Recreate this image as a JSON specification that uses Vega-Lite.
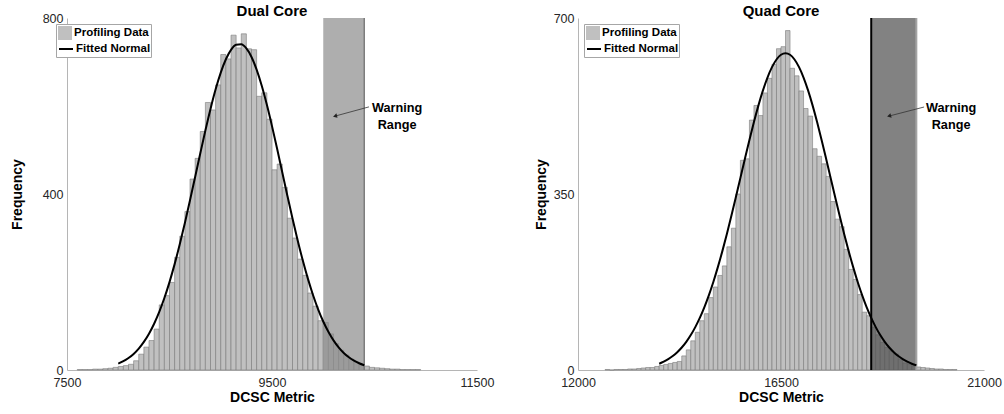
{
  "$schema": "https://vega.github.io/schema/vega-lite/v6.json",
  "padding": {"left": 10, "top": 4, "right": 0, "bottom": 0},
  "background": "white",
  "config": {
    "font": "Liberation Sans",
    "view": {"stroke": null},
    "axis": {"grid": false, "ticks": false, "domainColor": "#b5b5b5", "labelColor": "#262626", "labelFontSize": 12.5, "titleFontSize": 14, "titleFontWeight": "bold", "titleColor": "#000000", "labelPadding": 4, "labelFlush": false, "format": "d"},
    "title": {"fontSize": 15, "fontWeight": "bold", "offset": -7, "color": "#000000", "frame": "group"},
    "legend": {"orient": "none", "title": null, "padding": 2, "labelFontSize": 11.5, "labelFontWeight": "bold", "labelColor": "#000000", "symbolSize": 196, "rowPadding": 1, "labelOffset": 2}
  },
  "datasets": {
    "dualHist": [
      {"a":7600,"b":7650,"n":1},{"a":7650,"b":7700,"n":1},{"a":7700,"b":7750,"n":1},{"a":7750,"b":7800,"n":2},{"a":7800,"b":7850,"n":2},{"a":7850,"b":7900,"n":3},{"a":7900,"b":7950,"n":4},{"a":7950,"b":8000,"n":6},{"a":8000,"b":8050,"n":8},{"a":8050,"b":8100,"n":10},{"a":8100,"b":8150,"n":13},{"a":8150,"b":8200,"n":21},{"a":8200,"b":8250,"n":36},{"a":8250,"b":8300,"n":52},{"a":8300,"b":8350,"n":67},{"a":8350,"b":8400,"n":93},{"a":8400,"b":8450,"n":148},{"a":8450,"b":8500,"n":169},{"a":8500,"b":8550,"n":199},{"a":8550,"b":8600,"n":256},{"a":8600,"b":8650,"n":304},{"a":8650,"b":8700,"n":360},{"a":8700,"b":8750,"n":434},{"a":8750,"b":8800,"n":481},{"a":8800,"b":8850,"n":542},{"a":8850,"b":8900,"n":608},{"a":8900,"b":8950,"n":591},{"a":8950,"b":9000,"n":648},{"a":9000,"b":9050,"n":717},{"a":9050,"b":9100,"n":707},{"a":9100,"b":9150,"n":761},{"a":9150,"b":9200,"n":732},{"a":9200,"b":9250,"n":764},{"a":9250,"b":9300,"n":730},{"a":9300,"b":9350,"n":728},{"a":9350,"b":9400,"n":622},{"a":9400,"b":9450,"n":630},{"a":9450,"b":9500,"n":570},{"a":9500,"b":9550,"n":455},{"a":9550,"b":9600,"n":468},{"a":9600,"b":9650,"n":415},{"a":9650,"b":9700,"n":345},{"a":9700,"b":9750,"n":300},{"a":9750,"b":9800,"n":252},{"a":9800,"b":9850,"n":215},{"a":9850,"b":9900,"n":175},{"a":9900,"b":9950,"n":145},{"a":9950,"b":10000,"n":112},{"a":10000,"b":10050,"n":108},{"a":10050,"b":10100,"n":82},{"a":10100,"b":10150,"n":60},{"a":10150,"b":10200,"n":45},{"a":10200,"b":10250,"n":34},{"a":10250,"b":10300,"n":25},{"a":10300,"b":10350,"n":18},{"a":10350,"b":10400,"n":12},{"a":10400,"b":10450,"n":9},{"a":10450,"b":10500,"n":6},{"a":10500,"b":10550,"n":5},{"a":10550,"b":10600,"n":4},{"a":10600,"b":10650,"n":3},{"a":10650,"b":10700,"n":2},{"a":10700,"b":10750,"n":2},{"a":10750,"b":10800,"n":1},{"a":10800,"b":10850,"n":1},{"a":10850,"b":10900,"n":1},{"a":10900,"b":10950,"n":1}
    ],
    "dualFit": [
      {"x":8000,"y":14.3},{"x":8050,"y":19.9},{"x":8100,"y":27.2},{"x":8150,"y":36.6},{"x":8200,"y":48.7},{"x":8250,"y":63.8},{"x":8300,"y":82.5},{"x":8350,"y":105.2},{"x":8400,"y":132.1},{"x":8450,"y":163.6},{"x":8500,"y":199.8},{"x":8550,"y":240.6},{"x":8600,"y":285.6},{"x":8650,"y":334.2},{"x":8700,"y":385.6},{"x":8750,"y":438.8},{"x":8800,"y":492.1},{"x":8850,"y":544.2},{"x":8900,"y":593.3},{"x":8950,"y":637.9},{"x":9000,"y":676.0},{"x":9050,"y":706.3},{"x":9100,"y":727.7},{"x":9150,"y":739.1},{"x":9200,"y":740.2},{"x":9250,"y":730.8},{"x":9300,"y":711.4},{"x":9350,"y":682.7},{"x":9400,"y":646.0},{"x":9450,"y":602.7},{"x":9500,"y":554.3},{"x":9550,"y":502.7},{"x":9600,"y":449.4},{"x":9650,"y":396.2},{"x":9700,"y":344.3},{"x":9750,"y":295.1},{"x":9800,"y":249.3},{"x":9850,"y":207.6},{"x":9900,"y":170.5},{"x":9950,"y":138.0},{"x":10000,"y":110.2},{"x":10050,"y":86.7},{"x":10100,"y":67.3},{"x":10150,"y":51.5},{"x":10200,"y":38.8},{"x":10250,"y":28.9},{"x":10300,"y":21.2},{"x":10350,"y":15.3},{"x":10400,"y":10.9}
    ],
    "quadHist": [
      {"a":12600,"b":12700,"n":1},{"a":12700,"b":12800,"n":0},{"a":12800,"b":12900,"n":1},{"a":12900,"b":13000,"n":1},{"a":13000,"b":13100,"n":1},{"a":13100,"b":13200,"n":2},{"a":13200,"b":13300,"n":2},{"a":13300,"b":13400,"n":3},{"a":13400,"b":13500,"n":4},{"a":13500,"b":13600,"n":5},{"a":13600,"b":13700,"n":5},{"a":13700,"b":13800,"n":7},{"a":13800,"b":13900,"n":9},{"a":13900,"b":14000,"n":11},{"a":14000,"b":14100,"n":13},{"a":14100,"b":14200,"n":15},{"a":14200,"b":14300,"n":17},{"a":14300,"b":14400,"n":28},{"a":14400,"b":14500,"n":40},{"a":14500,"b":14600,"n":58},{"a":14600,"b":14700,"n":75},{"a":14700,"b":14800,"n":98},{"a":14800,"b":14900,"n":112},{"a":14900,"b":15000,"n":144},{"a":15000,"b":15100,"n":165},{"a":15100,"b":15200,"n":188},{"a":15200,"b":15300,"n":207},{"a":15300,"b":15400,"n":245},{"a":15400,"b":15500,"n":282},{"a":15500,"b":15600,"n":350},{"a":15600,"b":15700,"n":417},{"a":15700,"b":15800,"n":420},{"a":15800,"b":15900,"n":497},{"a":15900,"b":16000,"n":526},{"a":16000,"b":16100,"n":506},{"a":16100,"b":16200,"n":551},{"a":16200,"b":16300,"n":580},{"a":16300,"b":16400,"n":608},{"a":16400,"b":16500,"n":639},{"a":16500,"b":16600,"n":643},{"a":16600,"b":16700,"n":675},{"a":16700,"b":16800,"n":600},{"a":16800,"b":16900,"n":585},{"a":16900,"b":17000,"n":555},{"a":17000,"b":17100,"n":520},{"a":17100,"b":17200,"n":505},{"a":17200,"b":17300,"n":440},{"a":17300,"b":17400,"n":425},{"a":17400,"b":17500,"n":410},{"a":17500,"b":17600,"n":385},{"a":17600,"b":17700,"n":335},{"a":17700,"b":17800,"n":300},{"a":17800,"b":17900,"n":285},{"a":17900,"b":18000,"n":240},{"a":18000,"b":18100,"n":200},{"a":18100,"b":18200,"n":180},{"a":18200,"b":18300,"n":150},{"a":18300,"b":18400,"n":115},{"a":18400,"b":18500,"n":108},{"a":18500,"b":18600,"n":85},{"a":18600,"b":18700,"n":70},{"a":18700,"b":18800,"n":55},{"a":18800,"b":18900,"n":45},{"a":18900,"b":19000,"n":38},{"a":19000,"b":19100,"n":32},{"a":19100,"b":19200,"n":22},{"a":19200,"b":19300,"n":14},{"a":19300,"b":19400,"n":12},{"a":19400,"b":19500,"n":8},{"a":19500,"b":19600,"n":6},{"a":19600,"b":19700,"n":5},{"a":19700,"b":19800,"n":4},{"a":19800,"b":19900,"n":3},{"a":19900,"b":20000,"n":2},{"a":20000,"b":20100,"n":2},{"a":20100,"b":20200,"n":1},{"a":20200,"b":20300,"n":1},{"a":20300,"b":20400,"n":1}
    ],
    "quadFit": [
      {"x":13800,"y":12.5},{"x":13900,"y":16.5},{"x":14000,"y":21.5},{"x":14100,"y":27.7},{"x":14200,"y":35.4},{"x":14300,"y":44.7},{"x":14400,"y":56.0},{"x":14500,"y":69.5},{"x":14600,"y":85.3},{"x":14700,"y":103.6},{"x":14800,"y":124.7},{"x":14900,"y":148.5},{"x":15000,"y":175.1},{"x":15100,"y":204.6},{"x":15200,"y":236.4},{"x":15300,"y":270.6},{"x":15400,"y":306.7},{"x":15500,"y":344.1},{"x":15600,"y":382.1},{"x":15700,"y":420.2},{"x":15800,"y":457.5},{"x":15900,"y":493.1},{"x":16000,"y":526.2},{"x":16100,"y":556.0},{"x":16200,"y":581.6},{"x":16300,"y":602.3},{"x":16400,"y":617.5},{"x":16500,"y":626.9},{"x":16600,"y":630.0},{"x":16700,"y":626.9},{"x":16800,"y":617.5},{"x":16900,"y":602.3},{"x":17000,"y":581.6},{"x":17100,"y":556.0},{"x":17200,"y":526.2},{"x":17300,"y":493.1},{"x":17400,"y":457.5},{"x":17500,"y":420.2},{"x":17600,"y":382.1},{"x":17700,"y":344.1},{"x":17800,"y":306.7},{"x":17900,"y":270.6},{"x":18000,"y":236.4},{"x":18100,"y":204.6},{"x":18200,"y":175.1},{"x":18300,"y":148.5},{"x":18400,"y":124.7},{"x":18500,"y":103.6},{"x":18600,"y":85.3},{"x":18700,"y":69.5},{"x":18800,"y":56.0},{"x":18900,"y":44.7},{"x":19000,"y":35.4},{"x":19100,"y":27.7},{"x":19200,"y":21.5},{"x":19300,"y":16.5},{"x":19400,"y":12.5},{"x":19500,"y":9.4}
    ]
  },
  "hconcat": [
    {
      "title": "Dual Core",
      "width": 410,
      "height": 352,
      "layer": [
        {
          "data": {"name": "dualHist"},
          "mark": {"type": "rect", "stroke": "#7a7a7a", "strokeWidth": 0.6},
          "encoding": {
            "x": {"field": "a", "type": "quantitative", "scale": {"domain": [7500, 11500], "nice": false, "zero": false}, "axis": {"values": [7500, 9500, 11500], "title": "DCSC Metric", "titlePadding": 2, "labelPadding": 6}},
            "x2": {"field": "b"},
            "y": {"field": "n", "type": "quantitative", "scale": {"domain": [0, 800], "nice": false}, "axis": {"values": [0, 400, 800], "title": "Frequency", "titlePadding": 18}},
            "y2": {"datum": 0},
            "fill": {"datum": "Profiling Data", "type": "nominal",
              "scale": {"domain": ["Profiling Data", "Fitted Normal"], "range": ["#c0c0c0", "rgba(0,0,0,0)"]},
              "legend": {"legendX": -11, "legendY": 6, "strokeColor": "#a6a6a6", "fillColor": "white", "symbolType": "square", "symbolStrokeWidth": 0, "labelExpr": "datum.label === 'Fitted Normal' ? '' : datum.label"}}
          }
        },
        {
          "data": {"values": [{"a": 10000, "b": 10400, "lo": 0, "hi": 800}]},
          "mark": {"type": "rect", "fill": "#8c8c8c", "opacity": 0.7},
          "encoding": {
            "x": {"field": "a", "type": "quantitative"},
            "x2": {"field": "b"},
            "y": {"field": "lo", "type": "quantitative"},
            "y2": {"field": "hi"}
          }
        },
        {
          "data": {"values": [{"x": 10400, "lo": 0, "hi": 800}]},
          "mark": {"type": "rule", "stroke": "#7d7d7d", "strokeWidth": 1.5},
          "encoding": {
            "x": {"field": "x", "type": "quantitative"},
            "y": {"field": "lo", "type": "quantitative"},
            "y2": {"field": "hi"}
          }
        },
        {
          "data": {"name": "dualFit"},
          "mark": {"type": "line", "strokeWidth": 2, "interpolate": "monotone"},
          "encoding": {
            "x": {"field": "x", "type": "quantitative"},
            "y": {"field": "y", "type": "quantitative"},
            "stroke": {"datum": "Fitted Normal", "type": "nominal",
              "scale": {"domain": ["Fitted Normal"], "range": ["#000000"]},
              "legend": {"legendX": -11, "legendY": 21, "strokeColor": "transparent", "fillColor": "transparent", "symbolType": "stroke", "symbolStrokeWidth": 2, "symbolStrokeColor": "#000000"}}
          }
        },
        {
          "data": {"values": [{"x1": 10446, "y1": 598, "x2": 10115, "y2": 577}]},
          "mark": {"type": "rule", "stroke": "#333333", "strokeWidth": 0.8},
          "encoding": {
            "x": {"field": "x1", "type": "quantitative"},
            "y": {"field": "y1", "type": "quantitative"},
            "x2": {"field": "x2"},
            "y2": {"field": "y2"}
          }
        },
        {
          "data": {"values": [{"x": 10115, "y": 577}]},
          "mark": {"type": "point", "shape": "triangle-left", "filled": true, "color": "#222222", "size": 22, "angle": 345, "opacity": 1},
          "encoding": {
            "x": {"field": "x", "type": "quantitative"},
            "y": {"field": "y", "type": "quantitative"}
          }
        },
        {
          "data": {"values": [{"x": 10720, "y": 595, "t": "Warning\nRange"}]},
          "mark": {"type": "text", "fontWeight": "bold", "fontSize": 12.7, "lineBreak": "\n", "lineHeight": 16.6, "align": "center", "baseline": "middle", "color": "#000000"},
          "encoding": {
            "x": {"field": "x", "type": "quantitative"},
            "y": {"field": "y", "type": "quantitative"},
            "text": {"field": "t"}
          }
        }
      ]
    },
    {
      "title": "Quad Core",
      "width": 406,
      "height": 352,
      "layer": [
        {
          "data": {"name": "quadHist"},
          "mark": {"type": "rect", "stroke": "#7a7a7a", "strokeWidth": 0.6},
          "encoding": {
            "x": {"field": "a", "type": "quantitative", "scale": {"domain": [12000, 21000], "nice": false, "zero": false}, "axis": {"values": [12000, 16500, 21000], "title": "DCSC Metric", "titlePadding": 2, "labelPadding": 6}},
            "x2": {"field": "b"},
            "y": {"field": "n", "type": "quantitative", "scale": {"domain": [0, 700], "nice": false}, "axis": {"values": [0, 350, 700], "title": "Frequency", "titlePadding": 5}},
            "y2": {"datum": 0},
            "fill": {"datum": "Profiling Data", "type": "nominal",
              "scale": {"domain": ["Profiling Data", "Fitted Normal"], "range": ["#c0c0c0", "rgba(0,0,0,0)"]},
              "legend": {"legendX": 6, "legendY": 6, "strokeColor": "#a6a6a6", "fillColor": "white", "symbolType": "square", "symbolStrokeWidth": 0, "labelExpr": "datum.label === 'Fitted Normal' ? '' : datum.label"}}
          }
        },
        {
          "data": {"values": [{"a": 18500, "b": 19500, "lo": 0, "hi": 700}]},
          "mark": {"type": "rect", "fill": "#4d4d4d", "opacity": 0.7},
          "encoding": {
            "x": {"field": "a", "type": "quantitative"},
            "x2": {"field": "b"},
            "y": {"field": "lo", "type": "quantitative"},
            "y2": {"field": "hi"}
          }
        },
        {
          "data": {"values": [{"x": 18500, "lo": 0, "hi": 700}]},
          "mark": {"type": "rule", "strokeWidth": 2, "stroke": "#000000"},
          "encoding": {
            "x": {"field": "x", "type": "quantitative"},
            "y": {"field": "lo", "type": "quantitative"},
            "y2": {"field": "hi"}
          }
        },
        {
          "data": {"values": [{"x": 19500, "lo": 0, "hi": 700}]},
          "mark": {"type": "rule", "strokeWidth": 2, "stroke": "#a3a3a3"},
          "encoding": {
            "x": {"field": "x", "type": "quantitative"},
            "y": {"field": "lo", "type": "quantitative"},
            "y2": {"field": "hi"}
          }
        },
        {
          "data": {"name": "quadFit"},
          "mark": {"type": "line", "strokeWidth": 2, "interpolate": "monotone"},
          "encoding": {
            "x": {"field": "x", "type": "quantitative"},
            "y": {"field": "y", "type": "quantitative"},
            "stroke": {"datum": "Fitted Normal", "type": "nominal",
              "scale": {"domain": ["Fitted Normal"], "range": ["#000000"]},
              "legend": {"legendX": 6, "legendY": 21, "strokeColor": "transparent", "fillColor": "transparent", "symbolType": "stroke", "symbolStrokeWidth": 2, "symbolStrokeColor": "#000000"}}
          }
        },
        {
          "data": {"values": [{"x1": 19672, "y1": 523, "x2": 18896, "y2": 505}]},
          "mark": {"type": "rule", "stroke": "#333333", "strokeWidth": 0.8},
          "encoding": {
            "x": {"field": "x1", "type": "quantitative"},
            "y": {"field": "y1", "type": "quantitative"},
            "x2": {"field": "x2"},
            "y2": {"field": "y2"}
          }
        },
        {
          "data": {"values": [{"x": 18896, "y": 505}]},
          "mark": {"type": "point", "shape": "triangle-left", "filled": true, "color": "#222222", "size": 22, "angle": 345, "opacity": 1},
          "encoding": {
            "x": {"field": "x", "type": "quantitative"},
            "y": {"field": "y", "type": "quantitative"}
          }
        },
        {
          "data": {"values": [{"x": 20270, "y": 521, "t": "Warning\nRange"}]},
          "mark": {"type": "text", "fontWeight": "bold", "fontSize": 12.7, "lineBreak": "\n", "lineHeight": 16.6, "align": "center", "baseline": "middle", "color": "#000000"},
          "encoding": {
            "x": {"field": "x", "type": "quantitative"},
            "y": {"field": "y", "type": "quantitative"},
            "text": {"field": "t"}
          }
        }
      ]
    }
  ],
  "spacing": 40,
  "resolve": {"scale": {"fill": "independent", "stroke": "independent"}, "legend": {"fill": "independent", "stroke": "independent"}}
}
